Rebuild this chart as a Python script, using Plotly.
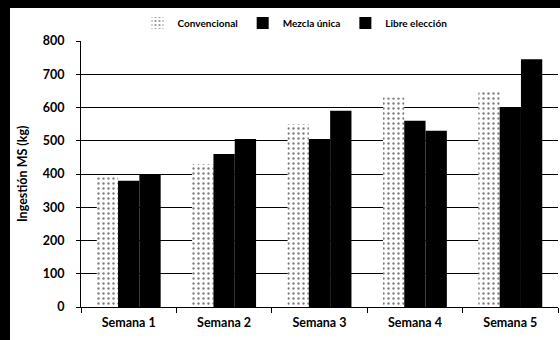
import plotly.graph_objects as go

# Ingestión de materia seca por semana y tipo de alimentación
semanas = ["Semana 1", "Semana 2", "Semana 3", "Semana 4", "Semana 5"]
convencional = [390, 430, 550, 630, 650]
mezcla_unica = [380, 460, 505, 560, 600]
libre_eleccion = [400, 505, 590, 530, 745]
y_ticks = [0, 100, 200, 300, 400, 500, 600, 700, 800]
y_title = "Ingestión MS (kg)"

FONT = "Lato"
W, H = 560, 340
M_L, M_R, M_T, M_B = 81, 2, 41, 33

fig = go.Figure()
fig.add_trace(go.Bar(
    name="Convencional", x=semanas, y=convencional,
    marker=dict(color="white", line=dict(width=0),
                pattern=dict(shape=".", fgcolor="black", bgcolor="white",
                             size=5, solidity=0.18, fillmode="overlay")),
))
fig.add_trace(go.Bar(
    name="Mezcla única", x=semanas, y=mezcla_unica,
    marker=dict(color="black", line=dict(width=0)),
))
fig.add_trace(go.Bar(
    name="Libre elección", x=semanas, y=libre_eleccion,
    marker=dict(color="black", line=dict(width=0)),
))

# convert pixel positions of the page frame into paper coordinates
pw, ph = W - M_L - M_R, H - M_T - M_B
def px(x): return (x - M_L) / pw
def py(y): return (H - M_B - y) / ph

frame = [
    dict(type="rect", xref="paper", yref="paper",
         x0=px(0), x1=px(W), y0=py(8), y1=py(0),
         fillcolor="black", line=dict(width=0), layer="above"),
    dict(type="rect", xref="paper", yref="paper",
         x0=px(0), x1=px(10), y0=py(H), y1=py(0),
         fillcolor="black", line=dict(width=0), layer="above"),
]

fig.add_annotation(
    text=y_title, textangle=-90, showarrow=False,
    xref="paper", yref="paper", x=px(22), y=0.5,
    xanchor="center", yanchor="middle",
    font=dict(size=12.5, family=FONT, weight="bold", color="black"),
)

fig.update_layout(
    width=W, height=H,
    margin=dict(l=M_L, r=M_R, t=M_T, b=M_B),
    paper_bgcolor="white", plot_bgcolor="white",
    barmode="group", bargap=0.33, bargroupgap=0,
    font=dict(family=FONT, color="black", size=12.5, weight="bold"),
    showlegend=True,
    legend=dict(orientation="h", x=px(295), xanchor="center",
                y=py(23), yanchor="middle",
                font=dict(size=10, family=FONT, weight="bold"),
                itemwidth=30, bgcolor="rgba(0,0,0,0)",
                traceorder="normal"),
    shapes=frame,
    xaxis=dict(
        showline=True, linecolor="black", linewidth=1,
        ticks="outside", tickson="boundaries", ticklen=5,
        tickcolor="black", showgrid=False, ticklabelstandoff=4,
        tickfont=dict(size=12.5, family=FONT, weight="bold"),
    ),
    yaxis=dict(
        range=[0, 800], tickvals=y_ticks,
        showline=True, linecolor="black", linewidth=1,
        ticks="outside", ticklen=4, tickcolor="black",
        showgrid=True, gridcolor="black", gridwidth=1,
        zeroline=False, ticklabelstandoff=9,
        tickfont=dict(size=12.5, family=FONT, weight="bold"),
    ),
)

fig.write_html("out.html")
